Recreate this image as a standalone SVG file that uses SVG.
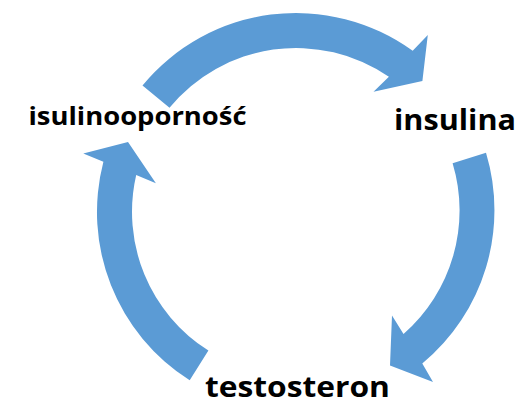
<svg xmlns="http://www.w3.org/2000/svg" width="518" height="404" viewBox="0 0 518 404">
<style>
.arrow{fill:#5B9BD5;stroke:none}
.lbl{font-family:"Open Sans","Liberation Sans",sans-serif;font-weight:bold;fill:#000}
</style>
<rect width="518" height="404" fill="#fff"/>
<g id="connectors">
<path class="arrow" d="M142.5,85.4 A199,199 0 0 1 412.7,50.8 L427.8,35.1 L422.4,81.1 L373.5,91.8 L388.9,76.8 A164,164 0 0 0 169.5,107.7 Z"/>
<path class="arrow" d="M486,152.8 A199,199 0 0 1 422.3,363.5 L433,382 L390,365.5 L392,315.5 L403.5,334 A164,164 0 0 0 452.6,163.2 Z"/>
<path class="arrow" d="M189.7,380.2 A199,199 0 0 1 103.4,161.8 L83.3,153.4 L128,142.1 L155.9,183.2 L136.2,175.1 A164,164 0 0 0 208.4,350.6 Z"/>
</g>
<g id="node-isulinoopornosc">
<text class="lbl" x="28.5" y="124.5" font-size="25" textLength="218" lengthAdjust="spacingAndGlyphs">isulinooporność</text>
</g>
<g id="node-insulina">
<text class="lbl" x="394" y="130" font-size="29" textLength="122" lengthAdjust="spacingAndGlyphs">insulina</text>
</g>
<g id="node-testosteron">
<text class="lbl" x="205" y="397" font-size="28" textLength="185" lengthAdjust="spacingAndGlyphs">testosteron</text>
</g>
</svg>
